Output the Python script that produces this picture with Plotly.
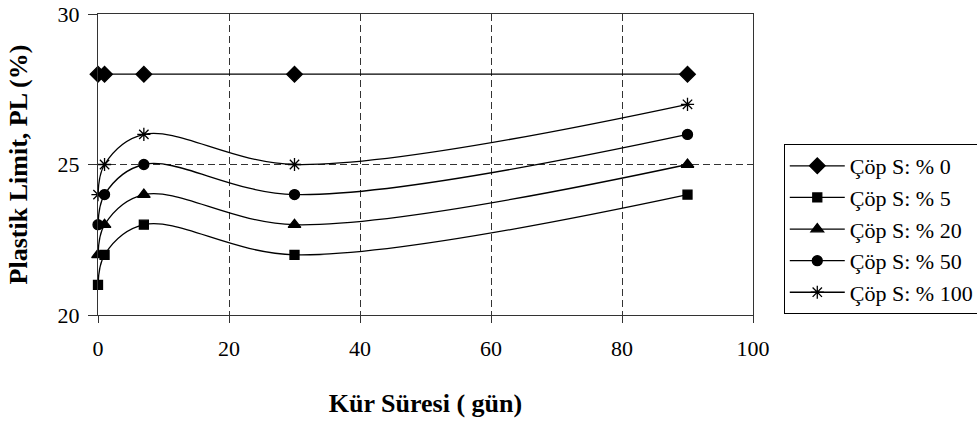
import plotly.graph_objects as go

days = [0, 1, 7, 30, 90]
series_names = ["Çöp S: % 0", "Çöp S: % 5", "Çöp S: % 20", "Çöp S: % 50", "Çöp S: % 100"]
pl_0 = [28, 28, 28, 28, 28]
pl_5 = [21, 22, 23, 22, 24]
pl_20 = [22, 23, 24, 23, 25]
pl_50 = [23, 24, 25, 24, 26]
pl_100 = [24, 25, 26, 25, 27]

values = [pl_0, pl_5, pl_20, pl_50, pl_100]
symbols = ["diamond", "square", "triangle-up", "circle", "asterisk-open"]
sizes = [12, 9, 11, 10, 11]
shapes = ["linear", "spline", "spline", "spline", "spline"]

FONT = "Liberation Serif"
fig = go.Figure()
for i, (name, vals) in enumerate(zip(series_names, values)):
    fig.add_trace(go.Scatter(
        x=days, y=vals, name=name, mode="lines+markers",
        line=dict(color="black", width=1.3, shape=shapes[i], smoothing=1.0),
        marker=dict(symbol=symbols[i], size=sizes[i], color="black",
                    line=dict(color="black", width=1.3)),
        cliponaxis=False, legendgroup=str(i),
    ))

fig.update_layout(
    width=977, height=421,
    margin=dict(l=98, r=224, t=14, b=106, autoexpand=False),
    paper_bgcolor="white", plot_bgcolor="white",
    font=dict(family=FONT, color="black", size=22),
    showlegend=True,
    legend=dict(x=1.047, y=0.568, xanchor="left", yanchor="top",
                bordercolor="black", borderwidth=1, bgcolor="white",
                font=dict(family=FONT, size=22), itemwidth=55,
                tracegroupgap=0),
)
fig.update_xaxes(
    range=[0, 100], dtick=20, tick0=0,
    showline=True, linecolor="#333", linewidth=1.3, mirror=True,
    ticks="outside", ticklen=7, tickcolor="#333", tickwidth=1.3,
    showgrid=True, gridcolor="#333", gridwidth=1, griddash="7px,4px",
    zeroline=False, ticklabelstandoff=6,
    tickfont=dict(family=FONT, size=22),
    title=dict(text="<b>Kür Süresi ( gün)</b>", font=dict(family=FONT, size=26), standoff=34),
)
fig.update_yaxes(
    range=[20, 30], dtick=5, tick0=20,
    showline=True, linecolor="#333", linewidth=1.3, mirror=True,
    ticks="outside", ticklen=9, tickcolor="#333", tickwidth=1.3,
    showgrid=True, gridcolor="#333", gridwidth=1, griddash="7px,4px",
    zeroline=False, ticklabelstandoff=4,
    tickfont=dict(family=FONT, size=22),
    title=dict(text="<b>Plastik Limit, PL (%)</b>", font=dict(family=FONT, size=26), standoff=22),
)
fig.write_html("out.html")
